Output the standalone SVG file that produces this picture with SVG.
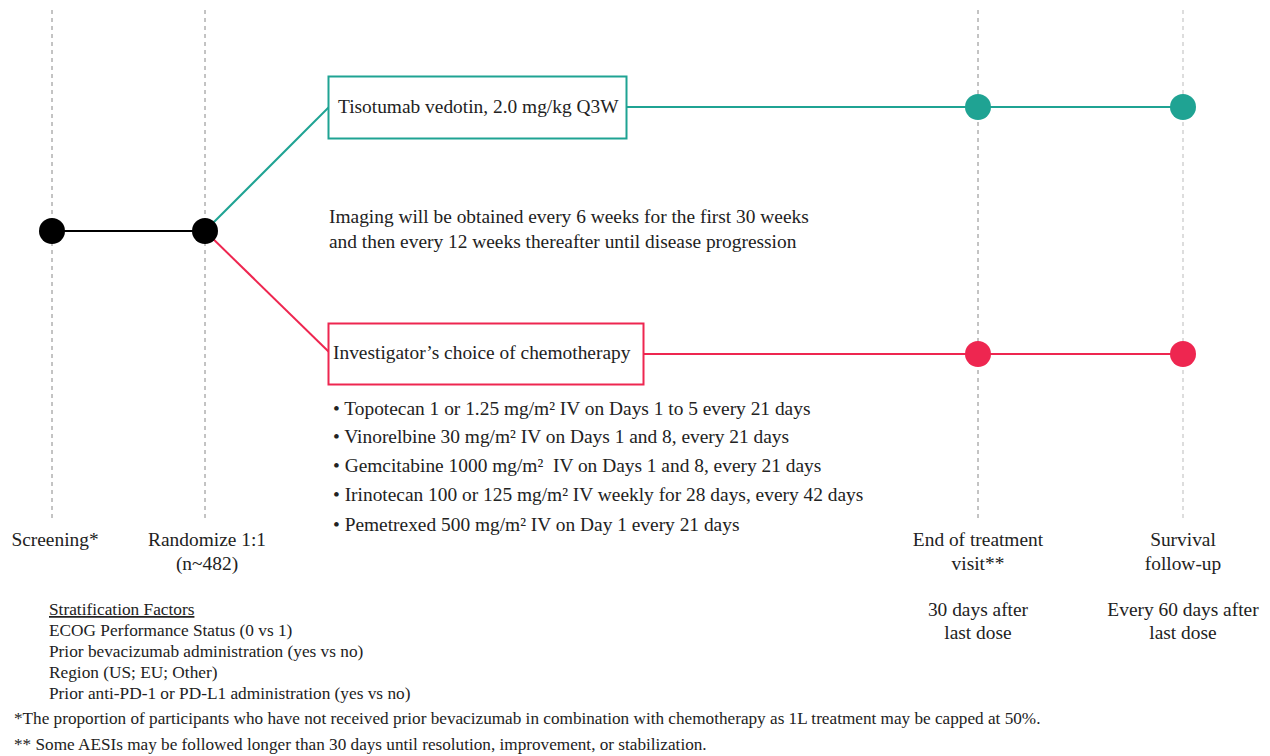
<svg xmlns="http://www.w3.org/2000/svg" width="1270" height="756" viewBox="0 0 1270 756">
<style>
text{font-family:"Liberation Serif","Times New Roman",serif;fill:#222}
.t{font-size:19.4px}
.s{font-size:17.3px}
.f{font-size:17.2px}
.m{text-anchor:middle;font-size:19.4px}
.dash{stroke:#888;stroke-width:1;stroke-dasharray:4,4;fill:none}
.dashl{stroke:#bbb;stroke-width:1;stroke-dasharray:4,4;fill:none}
.teal{stroke:#1fa393;stroke-width:2;fill:none}
.red{stroke:#ee2650;stroke-width:2;fill:none}
</style>
<rect width="1270" height="756" fill="#fff"/>
<g id="guides">
<line class="dash" x1="52" y1="10" x2="52" y2="518"/>
<line class="dash" x1="205" y1="10" x2="205" y2="518"/>
<line class="dash" x1="978" y1="10" x2="978" y2="518"/>
<line class="dashl" x1="1183" y1="10" x2="1183" y2="518"/>
</g>
<g id="connectors">
<line x1="52" y1="231" x2="205" y2="231" stroke="#000" stroke-width="2"/>
<polyline class="teal" points="205,231 329,107"/>
<line class="teal" x1="627" y1="107" x2="1183" y2="107"/>
<polyline class="red" points="205,231 329,352"/>
<line class="red" x1="644" y1="354" x2="1183" y2="354"/>
</g>
<g id="screening"><circle cx="52" cy="231" r="13" fill="#000"/></g>
<g id="randomize"><circle cx="205" cy="231" r="13" fill="#000"/></g>
<g id="tv-box">
<rect x="328.5" y="76.5" width="298" height="62" fill="#fff" stroke="#1fa393" stroke-width="2"/>
<text class="t" x="338" y="113">Tisotumab vedotin, 2.0 mg/kg Q3W</text>
</g>
<g id="chemo-box">
<rect x="328.5" y="323.5" width="315" height="61" fill="#fff" stroke="#ee2650" stroke-width="2"/>
<text class="t" x="333" y="359">Investigator’s choice of chemotherapy</text>
</g>
<g id="tv-eot"><circle cx="978" cy="107" r="13" fill="#1fa393"/></g>
<g id="tv-surv"><circle cx="1183" cy="107" r="13" fill="#1fa393"/></g>
<g id="chemo-eot"><circle cx="978" cy="354" r="13" fill="#ee2650"/></g>
<g id="chemo-surv"><circle cx="1183" cy="354" r="13" fill="#ee2650"/></g>
<g id="imaging">
<text class="t" x="329" y="223">Imaging will be obtained every 6 weeks for the first 30 weeks</text>
<text class="t" x="329" y="248">and then every 12 weeks thereafter until disease progression</text>
</g>
<g id="chemo-list">
<text class="t" x="333" y="415">• Topotecan 1 or 1.25 mg/m² IV on Days 1 to 5 every 21 days</text>
<text class="t" x="333" y="443">• Vinorelbine 30 mg/m² IV on Days 1 and 8, every 21 days</text>
<text class="t" x="333" y="472">• Gemcitabine 1000 mg/m²&#160; IV on Days 1 and 8, every 21 days</text>
<text class="t" x="333" y="501">• Irinotecan 100 or 125 mg/m² IV weekly for 28 days, every 42 days</text>
<text class="t" x="333" y="531">• Pemetrexed 500 mg/m² IV on Day 1 every 21 days</text>
</g>
<g id="labels">
<text class="m" x="55" y="546">Screening*</text>
<text class="m" x="207" y="546">Randomize 1:1</text>
<text class="m" x="207" y="570">(n~482)</text>
<text class="m" x="978" y="546">End of treatment</text>
<text class="m" x="978" y="570">visit**</text>
<text class="m" x="978" y="616">30 days after</text>
<text class="m" x="978" y="639">last dose</text>
<text class="m" x="1183" y="546">Survival</text>
<text class="m" x="1183" y="570">follow-up</text>
<text class="m" x="1183" y="616">Every 60 days after</text>
<text class="m" x="1183" y="639">last dose</text>
</g>
<g id="stratification">
<text class="s" x="49" y="615" text-decoration="underline">Stratification Factors</text>
<text class="s" x="49" y="636">ECOG Performance Status (0 vs 1)</text>
<text class="s" x="49" y="657">Prior bevacizumab administration (yes vs no)</text>
<text class="s" x="49" y="678">Region (US; EU; Other)</text>
<text class="s" x="49" y="699">Prior anti-PD-1 or PD-L1 administration (yes vs no)</text>
</g>
<g id="footnotes">
<text class="f" x="14" y="724">*The proportion of participants who have not received prior bevacizumab in combination with chemotherapy as 1L treatment may be capped at 50%.</text>
<text class="f" x="14" y="750">** Some AESIs may be followed longer than 30 days until resolution, improvement, or stabilization.</text>
</g>
</svg>
